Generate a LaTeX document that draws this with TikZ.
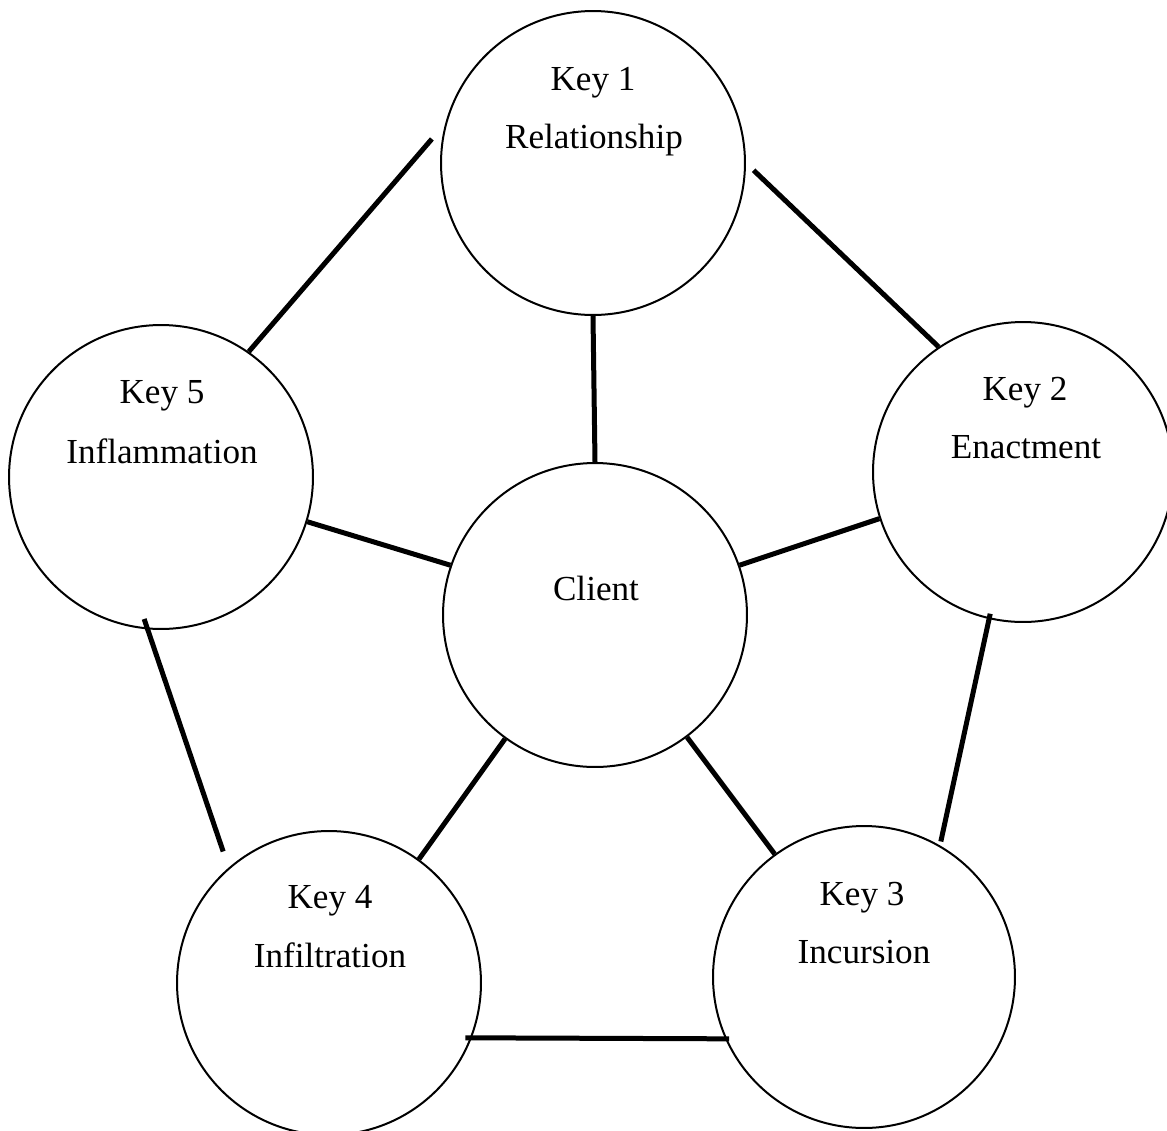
\documentclass[tikz,border=0pt]{standalone}
\usepackage{fontspec}
\setmainfont{Liberation Serif}
\begin{document}
\begin{tikzpicture}[x=0.02cm,y=-0.02cm,
  keycircle/.style={circle, draw, line width=0.04cm, minimum size=6.08cm, inner sep=0pt},
  conn/.style={line width=0.1cm},
  lbl/.style={anchor=base, inner sep=0pt, font=\fontsize{20}{24}\selectfont}]
\fill[white] (0,0) rectangle (1167,1130);
\useasboundingbox (0,0) rectangle (1167,1130);
% circles
\node[keycircle] (k1) at (593,163) {};
\node[keycircle, minimum size=6.0cm] (k2) at (1023,472) {};
\node[keycircle] (k5) at (161,477) {};
\node[keycircle] (cl) at (595,615) {};
\node[keycircle] (k4) at (329,983) {};
\node[keycircle, minimum size=6.04cm] (k3) at (864,977) {};
% labels
\node[lbl] (k1a) at (593,90) {Key 1};
\node[lbl] (k1b) at (594,148) {Relationship};
\node[lbl] (k2a) at (1025,400) {Key 2};
\node[lbl] (k2b) at (1026,458) {Enactment};
\node[lbl] (k5a) at (162,403) {Key 5};
\node[lbl] (k5b) at (162,463) {Inflammation};
\node[lbl] (cla) at (596,600) {Client};
\node[lbl] (k4a) at (330,908) {Key 4};
\node[lbl] (k4b) at (330,967) {Infiltration};
\node[lbl] (k3a) at (862,905) {Key 3};
\node[lbl] (k3b) at (864,963) {Incursion};
% connectors
\draw[conn, shorten <=0.41cm] (k1.165.3) -- (k5.55.2);
\draw[conn, shorten <=0.21cm] (k1.0.9) -- (k2.124.4);
\draw[conn] (k1.south) -- (cl.north);
\draw[conn] (k5.-17.8) -- (cl.161.4);
\draw[conn] (cl.19) -- (k2.198.8);
\draw[conn, shorten <=-0.22cm, shorten >=0.34cm] (k5.265.3) -- (k4.131.4);
\draw[conn, shorten <=-0.11cm, shorten >=0.08cm] (k2.257.6) -- (k3.60.2);
\draw[conn] (cl.234.2) -- (k4.54.2);
\draw[conn] (cl.-53) -- (k3.126.1);
\draw[conn, shorten <=-0.13cm, shorten >=-0.08cm] (k4.-21.2) -- (k3.-156.2);
\end{tikzpicture}
\end{document}
